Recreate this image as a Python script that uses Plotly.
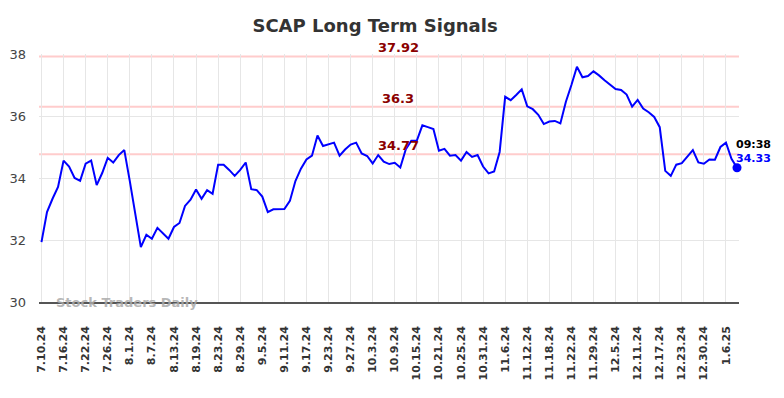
import pandas as pd
import plotly.graph_objects as go

# ---- data ----
holidays = ["2024-09-02", "2024-11-28", "2024-12-25", "2025-01-01"]
dates = pd.bdate_range("2024-07-10", "2025-01-08", freq="C", holidays=holidays)
date_labels = [f"{d.month}.{d.day}.{d.strftime('%y')}" for d in dates]

prices = [
    31.93, 32.90, 33.33, 33.71, 34.56, 34.37, 34.00, 33.91, 34.46, 34.56,
    33.77, 34.16, 34.65, 34.50, 34.74, 34.90, 33.90, 32.84, 31.77, 32.17,
    32.04, 32.39, 32.23, 32.04, 32.42, 32.55, 33.10, 33.30, 33.63, 33.33,
    33.61, 33.49, 34.43, 34.43, 34.26, 34.07, 34.26, 34.50, 33.64, 33.61,
    33.40, 32.90, 32.99, 33.00, 33.00, 33.26, 33.90, 34.30, 34.60, 34.72,
    35.37, 35.03, 35.08, 35.14, 34.72, 34.92, 35.08, 35.14, 34.79, 34.71,
    34.47, 34.74, 34.53, 34.45, 34.49, 34.34, 34.93, 35.20, 35.21, 35.70,
    35.64, 35.58, 34.88, 34.94, 34.72, 34.74, 34.56, 34.84, 34.68, 34.74,
    34.37, 34.15, 34.21, 34.84, 36.62, 36.51, 36.68, 36.86, 36.31, 36.22,
    36.04, 35.74, 35.82, 35.84, 35.76, 36.46, 37.00, 37.59, 37.25, 37.29,
    37.44, 37.31, 37.15, 37.00, 36.87, 36.84, 36.69, 36.30, 36.52, 36.24,
    36.12, 35.97, 35.64, 34.23, 34.07, 34.43, 34.48, 34.69, 34.90, 34.50,
    34.46, 34.60, 34.59, 35.00, 35.14, 34.62, 34.33,
]
signal_levels = [37.92, 36.3, 34.77]
signal_labels = ["37.92", "36.3", "34.77"]
last_time = "09:38"
y_ticks = [30, 32, 34, 36, 38]

x_idx = list(range(len(prices)))
tick_idx = x_idx[::4]
tick_text = [f"<b>{date_labels[i]}</b>" for i in tick_idx]

FONT = "DejaVu Sans"

fig = go.Figure()
fig.add_trace(go.Scatter(
    x=x_idx, y=prices, mode="lines",
    line=dict(color="#0000ff", width=2),
    hoverinfo="skip", showlegend=False,
))
fig.add_trace(go.Scatter(
    x=[x_idx[-1]], y=[prices[-1]], mode="markers",
    marker=dict(color="#0000ff", size=9),
    hoverinfo="skip", showlegend=False, cliponaxis=False,
))

for lvl, lab in zip(signal_levels, signal_labels):
    fig.add_shape(type="line", xref="paper", x0=0, x1=1, yref="y", y0=lvl, y1=lvl,
                  line=dict(color="#ffcccc", width=2), layer="below")
    fig.add_annotation(x=64.6, y=lvl, xref="x", yref="y", text=f"<b>{lab}</b>",
                       showarrow=False, yanchor="bottom", yshift=-1,
                       font=dict(family=FONT, size=13, color="#8b0000"))

fig.add_annotation(x=x_idx[-1], y=prices[-1], xref="x", yref="y",
                   text=f"<b>{last_time}</b>", showarrow=False,
                   xanchor="left", yanchor="middle", xshift=-3, yshift=23,
                   font=dict(family=FONT, size=11, color="#000000"))
fig.add_annotation(x=x_idx[-1], y=prices[-1], xref="x", yref="y",
                   text=f"<b>{prices[-1]:.2f}</b>", showarrow=False,
                   xanchor="left", yanchor="middle", xshift=-3, yshift=9,
                   font=dict(family=FONT, size=11, color="#0000ff"))

fig.add_annotation(x=0.021, y=0, xref="paper", yref="paper",
                   text="<b>Stock Traders Daily</b>", showarrow=False,
                   xanchor="left", yanchor="middle",
                   font=dict(family=FONT, size=13, color="rgba(170,170,170,0.85)"))

fig.update_layout(
    width=776, height=390,
    margin=dict(l=31, r=45, t=46, b=96, autoexpand=False),
    paper_bgcolor="white", plot_bgcolor="white",
    title=dict(text="<b>SCAP Long Term Signals</b>", x=0.473, xanchor="center",
               y=0.954, yanchor="middle", yref="container",
               font=dict(family=FONT, size=18, color="#333333")),
    font=dict(family=FONT),
)
fig.update_xaxes(
    range=[-0.45, len(prices) - 1 + 0.36], automargin=False,
    tickmode="array", tickvals=tick_idx, ticktext=tick_text,
    tickangle=-90, tickfont=dict(family=FONT, size=11, color="#333333"),
    showgrid=True, gridcolor="#e6e6e6", gridwidth=1,
    showline=True, linecolor="#555555", linewidth=1.5,
    ticks="", ticklabelstandoff=18, zeroline=False,
)
fig.update_yaxes(
    range=[30, 38], tickvals=y_ticks, automargin=False,
    tickfont=dict(family=FONT, size=13, color="#444444"),
    showgrid=True, gridcolor="#e6e6e6", gridwidth=1,
    showline=False, zeroline=False, ticks="", ticklabelstandoff=12,
)

fig.write_html("out.html")
